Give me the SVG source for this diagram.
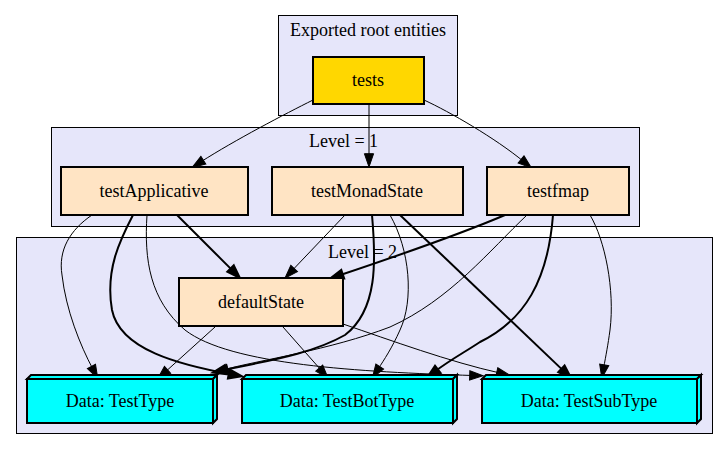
<svg xmlns="http://www.w3.org/2000/svg" width="728" height="449" viewBox="0 0 728 449">
<style>
text{font-family:'Liberation Serif','Times New Roman',serif;font-size:18px;fill:#000;text-anchor:middle}
.cl{fill:#e6e6fa;stroke:#000;stroke-width:1}
.nd{stroke:#000;stroke-width:2}
.bq{fill:#ffe4c4}
.gd{fill:#ffd700}
.cy{fill:#00ffff;stroke:#000;stroke-width:2;stroke-linejoin:miter}
.e{fill:none;stroke:#000;stroke-width:1;marker-end:url(#a)}
.b{fill:none;stroke:#000;stroke-width:2;marker-end:url(#ab)}
</style>
<defs>
<marker id="a" markerUnits="userSpaceOnUse" markerWidth="16" markerHeight="12" refX="3.3" refY="6" orient="auto" overflow="visible">
<path d="M0,1.4 L13.3,6 L0,10.6 Z" fill="#000" stroke="#000" stroke-width="1"/>
</marker>
<marker id="ab" markerUnits="userSpaceOnUse" markerWidth="16" markerHeight="12" refX="3.3" refY="6" orient="auto" overflow="visible">
<path d="M0,1.4 L13.3,6 L0,10.6 Z" fill="#000" stroke="#000" stroke-width="2"/>
</marker>
</defs>
<rect width="728" height="449" fill="#fff"/>
<g id="cluster_root">
<rect class="cl" x="278.5" y="15.5" width="179" height="100"/>
<text x="368" y="36">Exported root entities</text>
</g>
<g id="cluster_level1">
<rect class="cl" x="51.5" y="127.5" width="588" height="99"/>
<text x="343.5" y="147">Level = 1</text>
</g>
<g id="cluster_level2">
<rect class="cl" x="16.5" y="237.5" width="696" height="196"/>
<text x="362.5" y="258">Level = 2</text>
</g>
<g id="connectors">
<path class="e" d="M313,100 C 285,114 235,140 200.6,162"/>
<path class="e" d="M369,104 L369,157"/>
<path class="e" d="M424,100 C 450,112 495,138 523.6,161.5"/>
<path class="e" d="M92,215 C 70,230 58,250 62,275 C 66,310 80,345 93,369.3"/>
<path class="b" d="M133,215 C 120,240 105,270 112,310 C 120,350 180,365 232,374.5"/>
<path class="e" d="M147,215 C 144,260 150,300 185,330 C 230,365 360,372 473,375.5"/>
<path class="b" d="M177,215 L232.9,270.9"/>
<path class="e" d="M345,215 L291.9,270.8"/>
<path class="b" d="M372,215 C 376,260 378,310 345,335 C 310,355 260,362 222.6,370.4"/>
<path class="e" d="M390,215 C 410,250 414,300 400,330 C 392,348 384,360 377.9,369.3"/>
<path class="b" d="M400,215 L563.8,371.1"/>
<path class="b" d="M505,215 C 470,230 400,255 339.6,275.3"/>
<path class="e" d="M527,215 C 490,250 450,300 390,327 C 330,350 260,360 224.7,369.5"/>
<path class="b" d="M553,215 C 548,280 525,320 480,342 C 465,352 450,360 435.2,371.3"/>
<path class="e" d="M590,215 C 605,240 615,290 610,330 C 608,345 606,355 603.6,368.1"/>
<path class="e" d="M215,327 L165.1,372.1"/>
<path class="e" d="M283,327 L321.4,370.5"/>
<path class="e" d="M343,324 C 390,340 450,362 500,373"/>
</g>
<g id="tests">
<rect class="nd gd" x="313" y="57" width="111" height="47"/>
<text x="368" y="86">tests</text>
</g>
<g id="testApplicative">
<rect class="nd bq" x="61" y="167" width="187" height="48"/>
<text x="154" y="197">testApplicative</text>
</g>
<g id="testMonadState">
<rect class="nd bq" x="272" y="167" width="191" height="48"/>
<text x="367" y="197">testMonadState</text>
</g>
<g id="testfmap">
<rect class="nd bq" x="487" y="167" width="142" height="48"/>
<text x="558" y="197">testfmap</text>
</g>
<g id="defaultState">
<rect class="nd bq" x="179" y="278" width="164" height="48"/>
<text x="261" y="308">defaultState</text>
</g>
<g id="TestType">
<rect class="cy" x="27" y="379" width="186" height="44"/>
<polygon class="cy" points="27,379 31,375 217,375 213,379"/>
<polygon class="cy" points="213,379 217,375 217,419 213,423"/>
<text x="120" y="407">Data: TestType</text>
</g>
<g id="TestBotType">
<rect class="cy" x="242" y="379" width="211" height="44"/>
<polygon class="cy" points="242,379 246,375 457,375 453,379"/>
<polygon class="cy" points="453,379 457,375 457,419 453,423"/>
<text x="347" y="407">Data: TestBotType</text>
</g>
<g id="TestSubType">
<rect class="cy" x="482" y="379" width="215" height="44"/>
<polygon class="cy" points="482,379 486,375 701,375 697,379"/>
<polygon class="cy" points="697,379 701,375 701,419 697,423"/>
<text x="589" y="407">Data: TestSubType</text>
</g>
</svg>
